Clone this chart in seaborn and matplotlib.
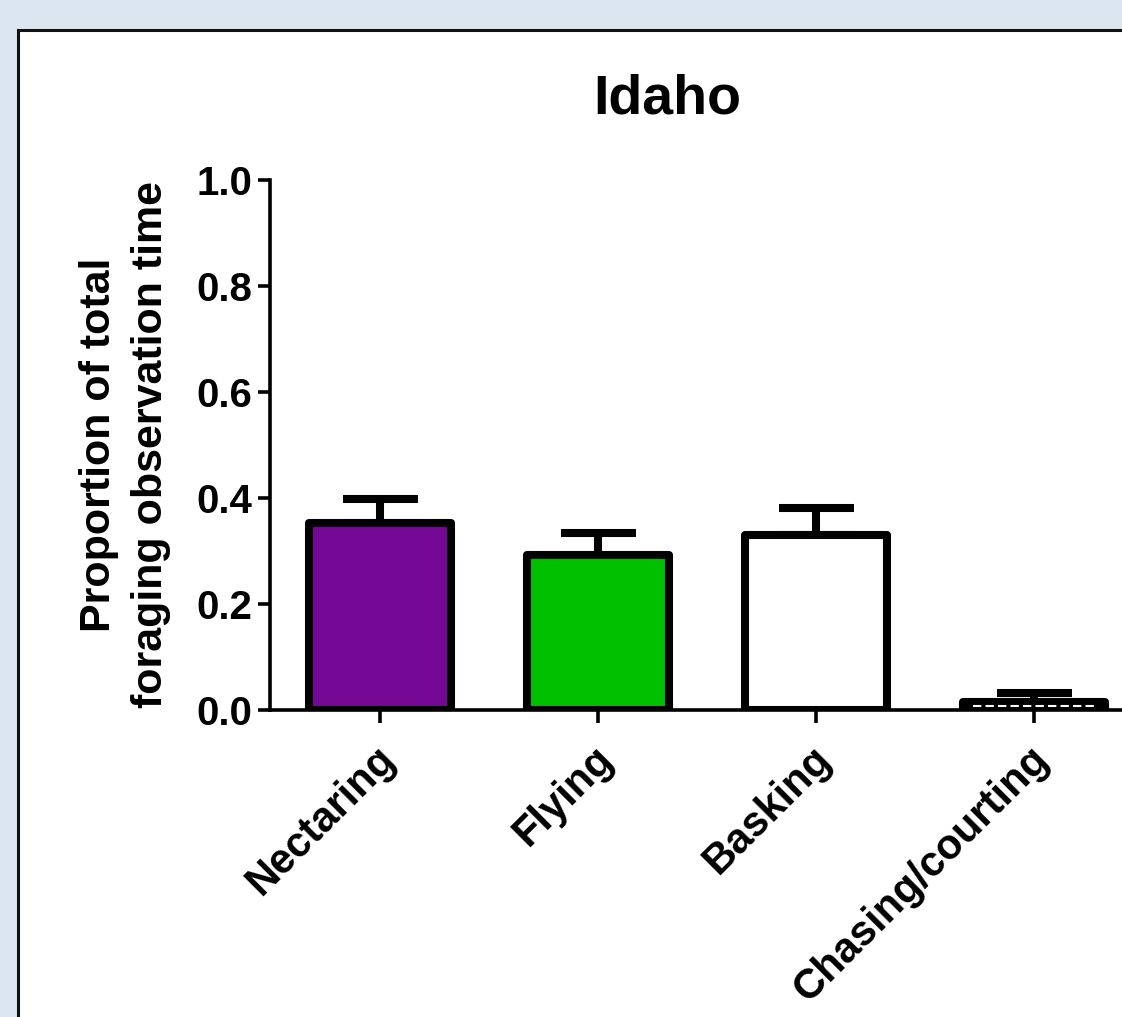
import matplotlib
matplotlib.use("Agg")
import matplotlib.pyplot as plt
import matplotlib.patches as mpatches
import matplotlib.transforms as mtransforms
import seaborn as sns
import pandas as pd
import numpy as np

categories = ["Nectaring", "Flying", "Basking", "Chasing/courting"]
means = [0.353, 0.292, 0.330, 0.015]
sem = [0.045, 0.042, 0.051, 0.017]
bar_colors = ["#760896", "#00c000", "#ffffff", "#ffffff"]
y_ticks = [0.0, 0.2, 0.4, 0.6, 0.8, 1.0]

sns.set_style("white")
plt.rcParams["font.family"] = ["Liberation Sans", "DejaVu Sans"]
plt.rcParams["font.weight"] = "bold"
for key in ["text.color", "axes.labelcolor", "xtick.color", "ytick.color"]:
    plt.rcParams[key] = "black"

df = pd.DataFrame({"behaviour": categories, "proportion": means})

fig = plt.figure(figsize=(11.22, 10.17), dpi=100)
fig.patch.set_facecolor("#dce6f0")

# white panel with a dark frame
panel = mpatches.Rectangle((18 / 1122, -0.1), 1.2, (1017 - 30) / 1017 + 0.1,
                           transform=fig.transFigure, facecolor="white",
                           edgecolor="#111111", linewidth=2.2, zorder=-5)
fig.patches.append(panel)

ax = fig.add_axes([270 / 1122, 307 / 1017, 873 / 1122, 530 / 1017])
ax.set_facecolor("none")
ax.set_zorder(2)

lw = 5.8
sns.barplot(data=df, x="behaviour", y="proportion", hue="behaviour",
            palette=bar_colors, saturation=1, width=0.65, errorbar=None,
            legend=False, edgecolor="black", linewidth=lw, ax=ax, zorder=3)

for p in ax.patches:
    p.set_joinstyle("round")

x = np.arange(len(categories))
ax.errorbar(x, means, yerr=[np.zeros(len(means)), sem], fmt="none",
            ecolor="black", elinewidth=lw, capsize=27, capthick=lw, zorder=2)

# inner dashed line of the shallow bar
ax.hlines(means[3] / 2, 3 - 0.28, 3 + 0.28, colors="white", linestyles=(0, (4, 2)),
          linewidth=1.5, zorder=4)

ax.set_xlim(-0.505, 3.5)
ax.set_ylim(0, 1.0)
ax.set_yticks(y_ticks)
ax.set_yticklabels([f"{t:.1f}" for t in y_ticks], fontsize=29, fontweight="bold")
ax.set_xticks(x)
ax.set_xticklabels(categories, rotation=45, ha="right", rotation_mode="anchor",
                   fontsize=30, fontweight="bold")
ax.tick_params(axis="both", direction="out", length=9, width=2.6, color="black",
               left=True, bottom=True, pad=4)
ax.tick_params(axis="x", pad=12)

shift = mtransforms.ScaledTranslation(-4 / 72, 0, fig.dpi_scale_trans)
for lab in ax.get_xticklabels():
    lab.set_transform(lab.get_transform() + shift)

for side in ["top", "right"]:
    ax.spines[side].set_visible(False)
for side in ["left", "bottom"]:
    ax.spines[side].set_linewidth(2.6)
    ax.spines[side].set_color("black")

ax.set_xlabel("")
ax.set_ylabel("Proportion of total\nforaging observation time", fontsize=31,
              fontweight="bold", labelpad=18, linespacing=1.38)

fig.text(667 / 1122, 1 - 100 / 1017, "Idaho", ha="center", va="center",
         fontsize=40, fontweight="bold")

fig.savefig("out.png", dpi=100, facecolor=fig.get_facecolor())
